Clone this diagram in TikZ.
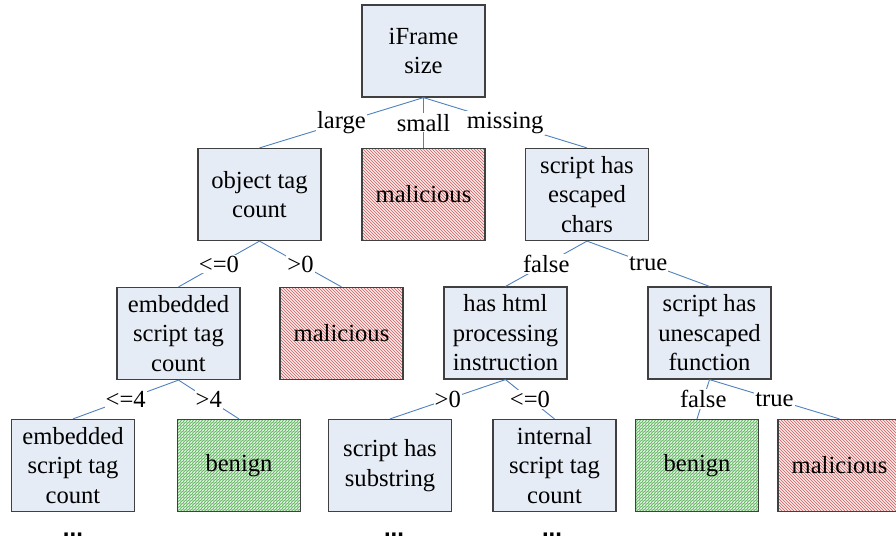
\documentclass[tikz,border=0pt]{standalone}
\usepackage{fontspec}
\setmainfont{Liberation Serif}
\newfontfamily\dotsfont{Liberation Sans}
\usepackage{tikz}
\usetikzlibrary{patterns}
\definecolor{edgeblue}{RGB}{79,129,189}
\definecolor{boxfill}{RGB}{230,236,245}
\definecolor{badbg}{RGB}{252,232,232}
\definecolor{badline}{RGB}{200,95,95}
\definecolor{goodbg}{RGB}{228,244,228}
\definecolor{goodgrid}{RGB}{175,222,175}
\definecolor{goodline}{RGB}{95,175,95}
\tikzset{
  txt/.style={font=\fontsize{24.6}{29.5}\selectfont},
  test/.style={txt, draw=black!75, line width=1.2pt, fill=boxfill, align=center,
    minimum width=123pt, minimum height=92pt, inner sep=0pt},
  badleaf/.style={test, preaction={fill=badbg}, pattern=north west lines,
    pattern color=badline},
  goodleaf/.style={test, preaction={fill=goodbg},
    preaction={pattern=grid, pattern color=goodgrid},
    pattern=north east lines, pattern color=goodline},
  edge/.style={draw=edgeblue, line width=0.9pt},
  lbl/.style={txt, fill=white, inner sep=1pt},
  more/.style={font=\dotsfont\bfseries\fontsize{24}{28}\selectfont, anchor=base, inner sep=0pt}
}

\begin{document}
\begin{tikzpicture}[x=1pt, y=-1pt]
      \useasboundingbox (0,0) rectangle (896,542);

      % root
      \node[test] (root) at (423.5, 51) {iFrame\\size};

      % first split
      \node[test] (obj) at (259.5, 194.5) {object tag\\count};
      \node[badleaf] (mal1) at (423.5, 194.5) {malicious};
      \node[test] (esc) at (587, 194.5) {script has\\escaped\\chars};

      \draw[edge] (root.south) -- node[lbl] {large} (obj.north);
      \draw[edge] (root.south) -- node[lbl] {small} (mal1.north);
      \draw[edge] (root.south) -- node[lbl] {missing} (esc.north);

      % second split
      \node[test] (emb) at (178.5, 333.5) {embedded\\script tag\\count};
      \node[badleaf] (mal2) at (341.5, 333.5) {malicious};
      \node[test] (html) at (505.5, 333) {has html\\processing\\instruction};
      \node[test] (unesc) at (709.5, 333) {script has\\unescaped\\function};

      \draw[edge] (obj.south) -- node[lbl] {<=0} (emb.north);
      \draw[edge] (obj.south) -- node[lbl] {>0} (mal2.north);
      \draw[edge] (esc.south) -- node[lbl] {false} (html.north);
      \draw[edge] (esc.south) -- node[lbl] {true} (unesc.north);

      % leaves and further tests
      \node[test] (emb2) at (73, 465.5) {embedded\\script tag\\count};
      \node[goodleaf] (ben1) at (239, 465.5) {benign};
      \node[test] (substr) at (390, 465.5) {script has\\substring};
      \node[test] (intern) at (554.5, 465.5) {internal\\script tag\\count};
      \node[goodleaf] (ben2) at (697, 465.5) {benign};
      \node[badleaf] (mal3) at (839.5, 465.5) {malicious};

      \draw[edge] (emb.south) -- node[lbl] {<=4} (emb2.north);
      \draw[edge] (emb.south) -- node[lbl] {>4} (ben1.north);
      \draw[edge] (html.south) -- node[lbl] {>0} (substr.north);
      \draw[edge] (html.south) -- node[lbl] {<=0} (intern.north);
      \draw[edge] (unesc.south) -- node[lbl] {false} (ben2.north);
      \draw[edge] (unesc.south) -- node[lbl] {true} (mal3.north);

      % subtrees not shown
      \node[more] (more1) at (73, 536) {...};
      \node[more] (more2) at (394, 536) {...};
      \node[more] (more3) at (552, 536) {...};
    \end{tikzpicture}
\end{document}
